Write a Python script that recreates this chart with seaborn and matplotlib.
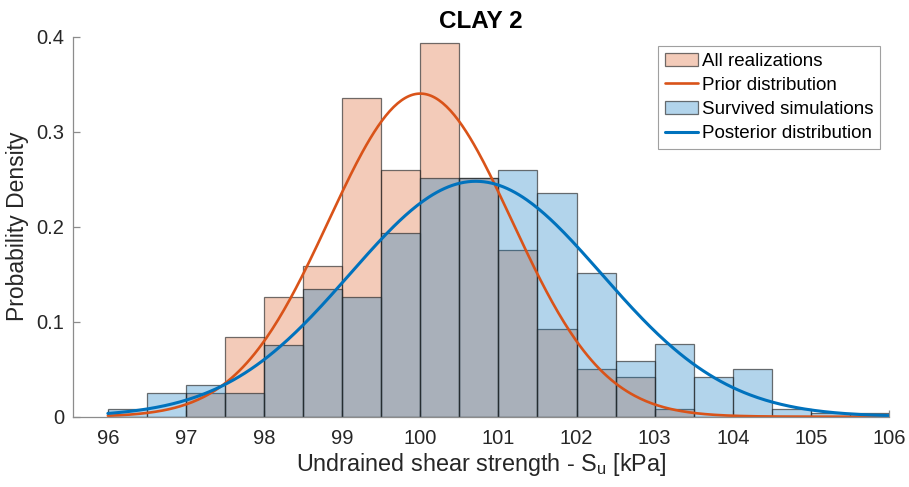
import numpy as np
import pandas as pd
import matplotlib
matplotlib.use("Agg")
import matplotlib.pyplot as plt
import seaborn as sns
from matplotlib.patches import Patch
from matplotlib.lines import Line2D

# ---- data ----
bin_edges = [96.0, 96.5, 97.0, 97.5, 98.0, 98.5, 99.0, 99.5, 100.0, 100.5, 101.0,
             101.5, 102.0, 102.5, 103.0, 103.5, 104.0, 104.5, 105.0, 105.5, 106.0]
all_realizations = [0.0, 0.0, 0.025, 0.084, 0.126, 0.159, 0.335, 0.260, 0.393, 0.251,
                    0.176, 0.092, 0.050, 0.042, 0.008, 0.0, 0.0, 0.0, 0.0, 0.0]
survived = [0.008, 0.025, 0.033, 0.025, 0.076, 0.134, 0.126, 0.193, 0.251, 0.251,
            0.260, 0.235, 0.151, 0.059, 0.076, 0.042, 0.050, 0.008, 0.004, 0.004]
prior_mean, prior_std = 100.0, 1.173
post_mean, post_std = 100.71, 1.61
x_ticks = [96, 97, 98, 99, 100, 101, 102, 103, 104, 105, 106]
y_ticks = [0, 0.1, 0.2, 0.3, 0.4]
y_tick_labels = ["0", "0.1", "0.2", "0.3", "0.4"]
labels = ["All realizations", "Prior distribution", "Survived simulations", "Posterior distribution"]

sns.set_theme(style="white")
plt.rcParams["font.family"] = ["Liberation Sans", "DejaVu Sans"]
plt.rcParams["mathtext.fontset"] = "custom"
plt.rcParams["mathtext.rm"] = "Liberation Sans"

ORANGE = (0.850, 0.325, 0.098)
BLUE = (0.0, 0.447, 0.741)
TXT = "#262626"
EDGE = (0.15, 0.15, 0.15, 0.65)

centers = [(a + b) / 2 for a, b in zip(bin_edges[:-1], bin_edges[1:])]
df_all = pd.DataFrame({"x": centers, "w": all_realizations})
df_surv = pd.DataFrame({"x": centers, "w": survived})

xs = np.linspace(96, 106, 400)
prior_pdf = np.exp(-0.5 * ((xs - prior_mean) / prior_std) ** 2) / (prior_std * np.sqrt(2 * np.pi))
post_pdf = np.exp(-0.5 * ((xs - post_mean) / post_std) ** 2) / (post_std * np.sqrt(2 * np.pi))

fig = plt.figure(figsize=(9.09, 4.87), dpi=100)
W, H = 909, 487
L, R, T, B = 72.7, 889.0, 36.7, 416.7
ax = fig.add_axes([L / W, 1 - B / H, (R - L) / W, (B - T) / H])

sns.histplot(data=df_all, x="x", weights="w", bins=list(bin_edges), stat="count", ax=ax,
             facecolor=(*ORANGE, 0.3), edgecolor=EDGE, linewidth=0.9)
sns.lineplot(x=xs, y=prior_pdf, ax=ax, color=ORANGE, linewidth=1.9)
sns.histplot(data=df_surv, x="x", weights="w", bins=list(bin_edges), stat="count", ax=ax,
             facecolor=(*BLUE, 0.3), edgecolor=EDGE, linewidth=0.9)
sns.lineplot(x=xs, y=post_pdf, ax=ax, color=BLUE, linewidth=2.2)

ax.set_xlim(95.55, 106)
ax.set_ylim(0, 0.4)
ax.set_xticks(x_ticks)
ax.set_xticklabels([str(t) for t in x_ticks])
ax.set_yticks(y_ticks)
ax.set_yticklabels(y_tick_labels)
for s in ["top", "right"]:
    ax.spines[s].set_visible(False)
for s in ["left", "bottom"]:
    ax.spines[s].set_color("#8c8c8c")
    ax.spines[s].set_linewidth(0.9)
ax.tick_params(axis="both", direction="in", length=5, width=0.9, color="#8c8c8c",
               labelsize=14.5, labelcolor=TXT, left=True, bottom=True)
ax.tick_params(axis="y", pad=6)
ax.tick_params(axis="x", pad=9)

ax.set_xlabel(r"Undrained shear strength - S$_\mathregular{u}$ [kPa]", fontsize=16.8, color=TXT, labelpad=2)
ax.set_ylabel("Probability Density", fontsize=16.5, color=TXT, labelpad=5)
ax.set_title("CLAY 2", fontsize=17.5, fontweight="bold", color="black", pad=6)

handles = [
    Patch(facecolor=(*ORANGE, 0.3), edgecolor=EDGE, linewidth=0.9),
    Line2D([0], [0], color=ORANGE, linewidth=1.9),
    Patch(facecolor=(*BLUE, 0.3), edgecolor=EDGE, linewidth=0.9),
    Line2D([0], [0], color=BLUE, linewidth=2.2),
]
leg = ax.legend(handles, labels, loc="upper right", bbox_to_anchor=((880.3 - L) / (R - L), 1 - (46 - T) / (B - T)),
                fontsize=13.5, frameon=True, fancybox=False, framealpha=1, edgecolor="#a0a0a0",
                handlelength=1.8, handletextpad=0.2, labelspacing=0.38, borderpad=0.35,
                borderaxespad=0.0)
leg.get_frame().set_linewidth(0.8)
for t in leg.get_texts():
    t.set_color("black")

fig.savefig("out.png", dpi=100)
